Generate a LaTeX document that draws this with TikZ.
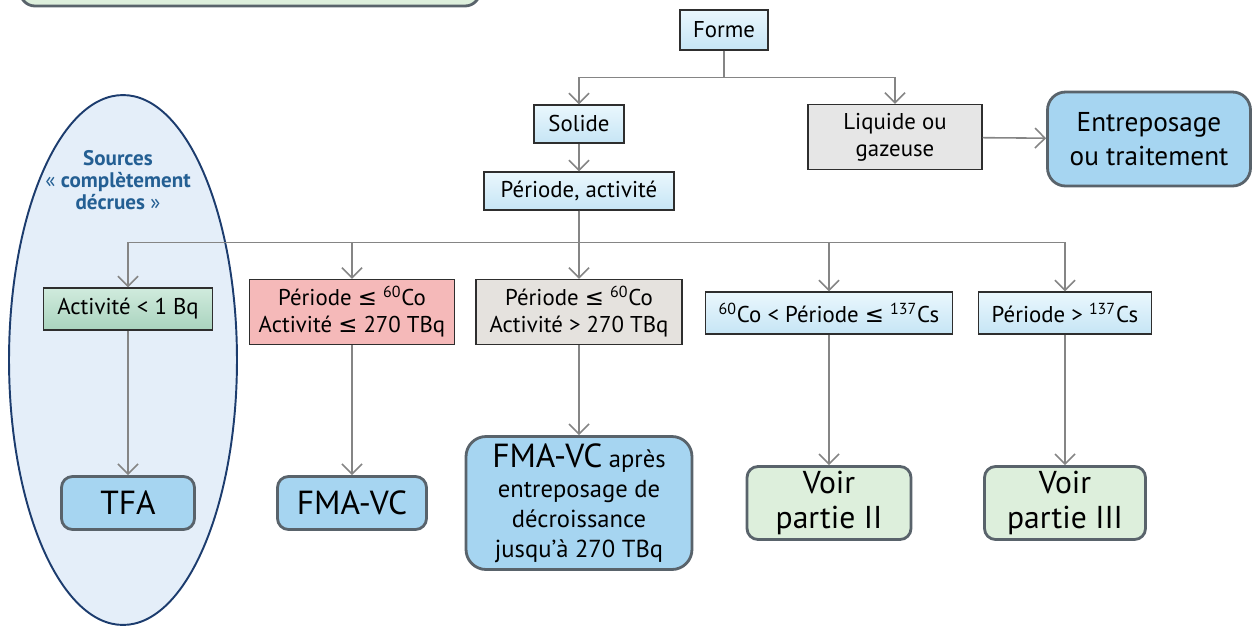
\documentclass[tikz,border=0pt]{standalone}
\usepackage{fontspec}
\setmainfont{PT Sans}
\newfontfamily\symfont{DejaVu Sans}
\usetikzlibrary{arrows.meta}
\definecolor{linegray}{HTML}{858585}
\definecolor{boxline}{HTML}{2E2E2E}
\definecolor{endline}{HTML}{59636B}
\definecolor{paletop}{HTML}{EAF7FD}
\definecolor{palebot}{HTML}{C6E5F5}
\definecolor{skyblue}{HTML}{A6D5F1}
\definecolor{mintfill}{HTML}{DDEFDC}
\definecolor{greentop}{HTML}{D0EBDD}
\definecolor{greenbot}{HTML}{A9D3BE}
\definecolor{pinkfill}{HTML}{F5B9B9}
\definecolor{stonefill}{HTML}{E5E2DE}
\definecolor{greyfill}{HTML}{E6E6E6}
\definecolor{ovalfill}{HTML}{E4EEF9}
\definecolor{ovalline}{HTML}{1C3C6E}
\definecolor{srcblue}{HTML}{245F93}
\newcommand{\lesign}{{\symfont ≤}}

\begin{document}
\begin{tikzpicture}[x=0.02cm,y=-0.02cm,
    conn/.style={draw=linegray,line width=0.9pt},
    arr/.style={conn,-{Straight Barb[length=2mm,width=4mm]}},
    flat/.style={draw=boxline,line width=0.8pt,inner sep=1pt,align=center,font=\boxfontsize},
    paleblue/.style={flat,top color=paletop,bottom color=palebot},
    endbox/.style={draw=endline,line width=1.6pt,rounded corners=0.22cm,inner sep=1pt,align=center},
    outbox/.style={endbox,fill=skyblue},
    seebox/.style={endbox,fill=mintfill,font=\seefontsize}]
    \providecommand{\boxfontsize}{\fontsize{13}{15.5}\selectfont}
    \providecommand{\bigfontsize}{\fontsize{19}{21}\selectfont}
    \providecommand{\seefontsize}{\fontsize{18}{19.5}\selectfont}
    \providecommand{\midfontsize}{\fontsize{14}{17}\selectfont}
    \useasboundingbox (0,0) rectangle (1255,626);
    % cut box at the top and the oval of decayed sources
    \draw[draw=endline,line width=1.6pt,fill=mintfill,rounded corners=0.3cm] (20,-40) rectangle (480,6);
    \draw[fill=ovalfill,draw=ovalline,line width=1.1pt] (123,360) ellipse [x radius=2.28cm, y radius=5.3cm];
    \node[align=center,text=srcblue,font=\fontsize{12}{12.5}\selectfont\bfseries] (sources) at (118,180)
        {Sources\\{\mdseries«} complètement\\décrues {\mdseries»}};

    \node[paleblue,minimum width=1.76cm,minimum height=0.8cm] (forme) at (724,30) {Forme};
    \node[paleblue,minimum width=1.8cm,minimum height=0.76cm] (solide) at (579,124) {Solide};
    \node[flat,fill=greyfill,minimum width=3.48cm,minimum height=1.3cm] (liquide) at (895,137) {Liquide ou\\gazeuse};
    \node[outbox,rounded corners=0.36cm,font=\fontsize{15.5}{19}\selectfont,minimum width=4.06cm,minimum height=1.88cm] (entrepos) at (1149,139)
        {Entreposage\\ou traitement};
    \node[paleblue,minimum width=3.8cm,minimum height=0.76cm] (periode) at (579,191) {Période, activité};

    \node[flat,top color=greentop,bottom color=greenbot,minimum width=3.38cm,minimum height=0.84cm] (act1) at (128,309)
        {Activité < 1 Bq};
    \node[flat,fill=pinkfill,minimum width=4.1cm,minimum height=1.3cm] (per1) at (352,312)
        {Période \lesign\ \textsuperscript{60}Co\\Activité \lesign\ 270 TBq};
    \node[flat,fill=stonefill,minimum width=4.12cm,minimum height=1.3cm] (per2) at (579,312)
        {Période \lesign\ \textsuperscript{60}Co\\Activité > 270 TBq};
    \node[paleblue,minimum width=4.94cm,minimum height=0.84cm] (per3) at (829,313)
        {\textsuperscript{60}Co < Période \lesign\ \textsuperscript{137}Cs};
    \node[paleblue,minimum width=3.46cm,minimum height=0.84cm] (per4) at (1065,313)
        {Période > \textsuperscript{137}Cs};

    \node[outbox,font=\bigfontsize,minimum width=2.66cm,minimum height=1.06cm] (tfa) at (128,503) {TFA};
    \node[outbox,font=\bigfontsize,minimum width=2.98cm,minimum height=1.06cm] (fma) at (352,503) {FMA-VC};
    \node[outbox,rounded corners=0.4cm,font=\midfontsize,minimum width=4.52cm,minimum height=2.66cm] (fmadecay) at (579,503)
        {{\bigfontsize FMA-VC} après\\entreposage de\\décroissance\\jusqu’à 270 TBq};
    \node[seebox,minimum width=3.28cm,minimum height=1.46cm] (voir2) at (829,503) {Voir\\partie II};
    \node[seebox,minimum width=3.22cm,minimum height=1.46cm] (voir3) at (1065,503) {Voir\\partie III};

    % connectors
    \draw[arr] (forme.south) -- ++(0,27) -| (solide.north);
    \draw[arr] (forme.south) -- ++(0,27) -| (liquide.north);
    \draw[arr] (solide) -- (periode);
    \draw[arr] (liquide) -- (entrepos);
    \foreach \target in {act1,per1,per2,per3,per4}
        \draw[arr] (periode.south) -- ++(0,32) -| (\target.north);
    \draw[arr] (act1) -- (tfa);
    \draw[arr] (per1) -- (fma);
    \draw[arr] (per2) -- (fmadecay);
    \draw[arr] (per3) -- (voir2);
    \draw[arr] (per4) -- (voir3);
\end{tikzpicture}
\end{document}
